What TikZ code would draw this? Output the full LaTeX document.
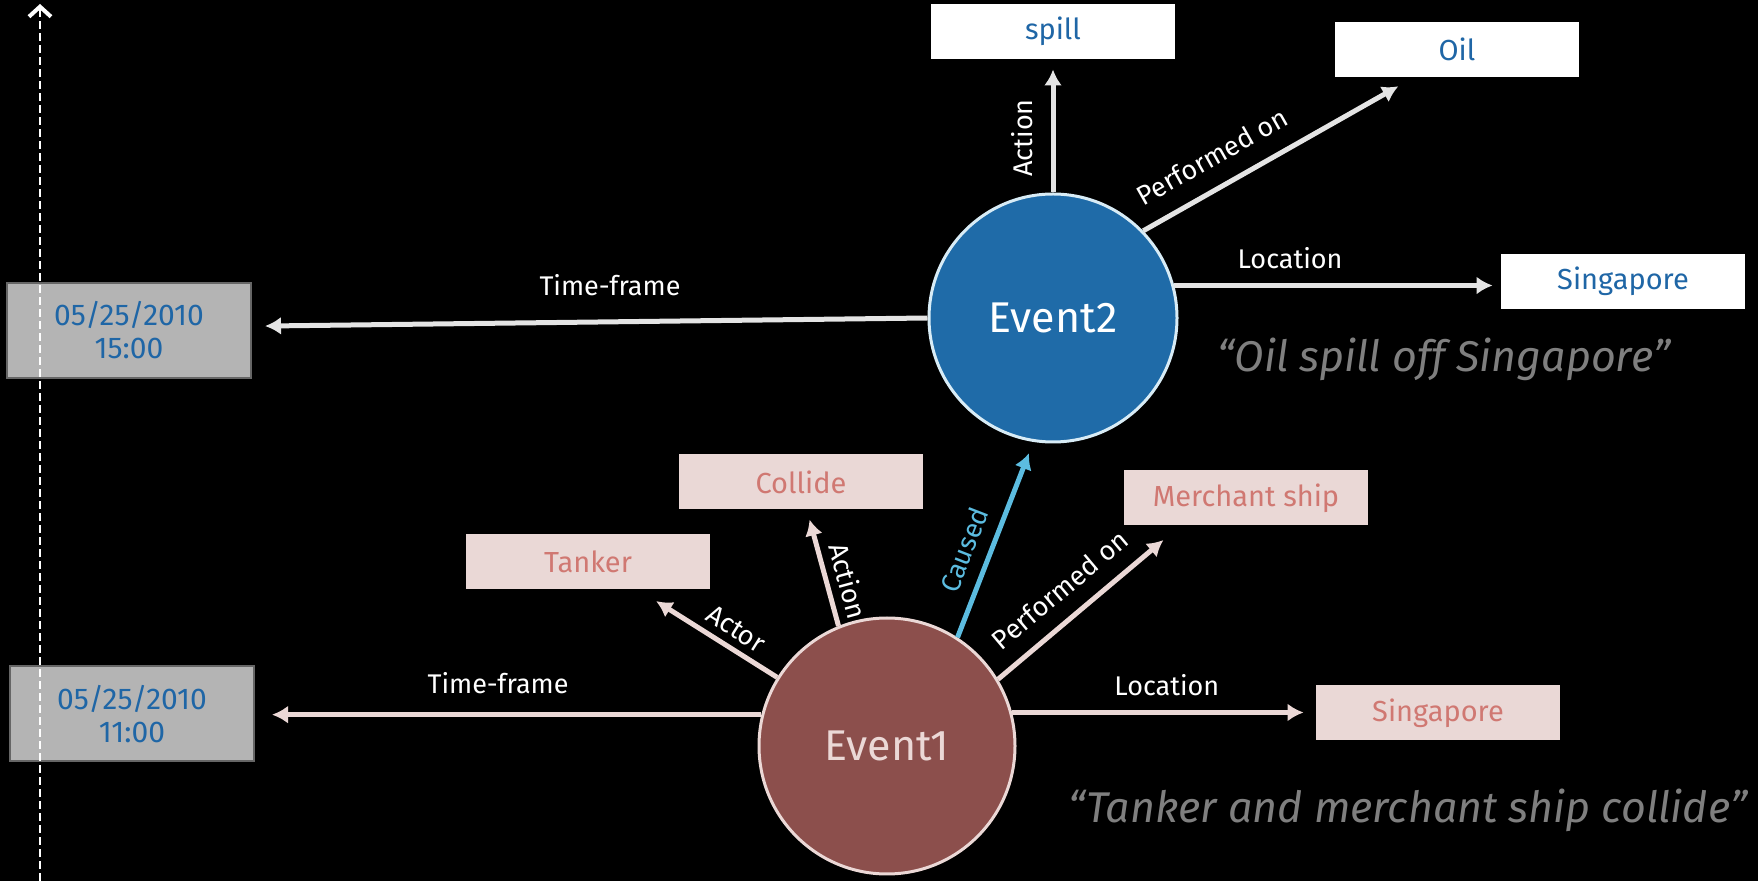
\documentclass[tikz,border=0pt]{standalone}
\usepackage{fontspec}
\setmainfont{Fira Sans}
\usetikzlibrary{%
    arrows.meta,
    calc,
    positioning
}
\definecolor{evblue}{HTML}{1F6BA8}
\definecolor{evbrown}{HTML}{8C4F4C}
\definecolor{evrim}{HTML}{D8ECF6}
\definecolor{boxpink}{HTML}{EAD8D6}
\definecolor{textpink}{HTML}{D07872}
\definecolor{textblue}{HTML}{1F66A6}
\definecolor{datefill}{HTML}{B4B4B4}
\definecolor{causecol}{HTML}{5CBCE0}
\definecolor{quotegray}{HTML}{7F7F7F}
\definecolor{linepink}{HTML}{EBD8D6}
\definecolor{linegray}{HTML}{E4E4E4}
\tikzset{headarrow/.style = {-{Latex[length=8pt,width=9pt]}}}

\begin{document}
\begin{tikzpicture}[
    x=0.5pt, y=-0.5pt,
    event/.style = {circle, inner sep=0pt, line width=1.5pt,
        font=\fontsize{21.5}{24}\selectfont},
    evnew/.style = {event, fill=evblue, draw=evrim, text=white, minimum size=124pt},
    evold/.style = {event, fill=evbrown, draw=linepink, text=linepink, minimum size=128pt},
    argbox/.style = {rectangle, inner sep=0pt, minimum width=122pt, minimum height=27.5pt,
        font=\fontsize{14.5}{17}\selectfont},
    newarg/.style = {argbox, fill=white, text=textblue},
    oldarg/.style = {argbox, fill=boxpink, text=textpink},
    datebox/.style = {argbox, fill=datefill, draw=black!60, line width=1pt,
        minimum height=47.5pt, align=center, text=textblue,
        font=\fontsize{15}{16.5}\selectfont},
    relnew/.style = {headarrow, line width=2.5pt, draw=linegray},
    relold/.style = {headarrow, line width=2.5pt, draw=linepink},
    lbl/.style = {text=white, inner sep=2pt, font=\fontsize{13.5}{16}\selectfont},
    quote/.style = {text=quotegray, inner sep=0pt, font=\fontsize{21.5}{25}\selectfont\itshape}]
    \path[use as bounding box, fill=black] (0,0) rectangle (1758,881);

    \node[evnew] (ev2) at (1053,318) {Event2};
    \node[newarg] (spill) [above=66.5pt of ev2] {spill};
    \node[newarg] (oil) at (1457,49.5) {Oil};
    \node[newarg] (sing2) at (1623,281.5) {Singapore};
    \node[datebox] (date2) at (129,330.5) {05/25/2010\\15:00};
    \node[quote] (q2) at (1444,359) {“Oil spill off Singapore”};

    \node[evold] (ev1) at (887,746) {Event1};
    \node[oldarg] (tanker) at (588,562) {Tanker};
    \node[oldarg] (collide) at (801,482) {Collide};
    \node[oldarg] (merchant) at (1246,498) {Merchant ship};
    \node[oldarg] (sing1) at (1438,713) {Singapore};
    \node[datebox] (date1) at (132,714) {05/25/2010\\11:00};
    \node[quote] (q1) at (1408,810) {“Tanker and merchant ship collide”};

    \draw[relnew, shorten >=5pt] (ev2.90) to
        node [lbl, pos=.41, sloped, above=7pt] {Action} (ev2.90 |- spill.south);
    \draw[relnew, shorten >=9pt] (ev2.44) to
        node [lbl, pos=.31, sloped, above=7pt] {Performed on} (oil.213);
    \draw[relnew, shorten >=4pt] (ev2.15) to
        node [lbl, pos=.355, above=5pt] {Location} (ev2.15 -| sing2.west);
    \draw[relnew, shorten >=6.5pt] (ev2.180) to
        node [lbl, pos=.47, above=10pt] {Time-frame} (date2.2);

    \draw[relold, shorten >=10.5pt] (ev1.148) to
        node [lbl, pos=.37, sloped, above=1.5pt] {Actor} (tanker.-29);
    \draw[relold, shorten >=5pt] (ev1.112) to
        node [lbl, pos=.34, sloped, above=2pt] {Action} (collide.-78);
    \draw[relold, draw=causecol, shorten >=6pt] (ev1.57) to
        node [lbl, text=causecol, pos=.40, sloped, above=4.5pt] {Caused} (ev2.-99);
    \draw[relold, shorten >=11pt] (ev1.31) to
        node [lbl, pos=.44, sloped, above=6pt] {Performed on} (merchant.203);
    \draw[relold, shorten >=6pt] (ev1.15) to
        node [lbl, pos=.51, above=5pt] {Location} (ev1.15 -| sing1.west);
    \draw[relold, shorten >=8.5pt] (ev1.166) to
        node [lbl, pos=.52, above=7pt] {Time-frame} (ev1.166 -| date1.east);

    \coordinate (tbottom) at (40,881);
    \coordinate (ttop) at (40,4);
    \draw[white, line width=1pt, dash pattern=on 4pt off 2pt,
        -{Straight Barb[length=5pt,width=11pt,line width=2pt]}] (tbottom) -- (ttop);
\end{tikzpicture}
\end{document}
